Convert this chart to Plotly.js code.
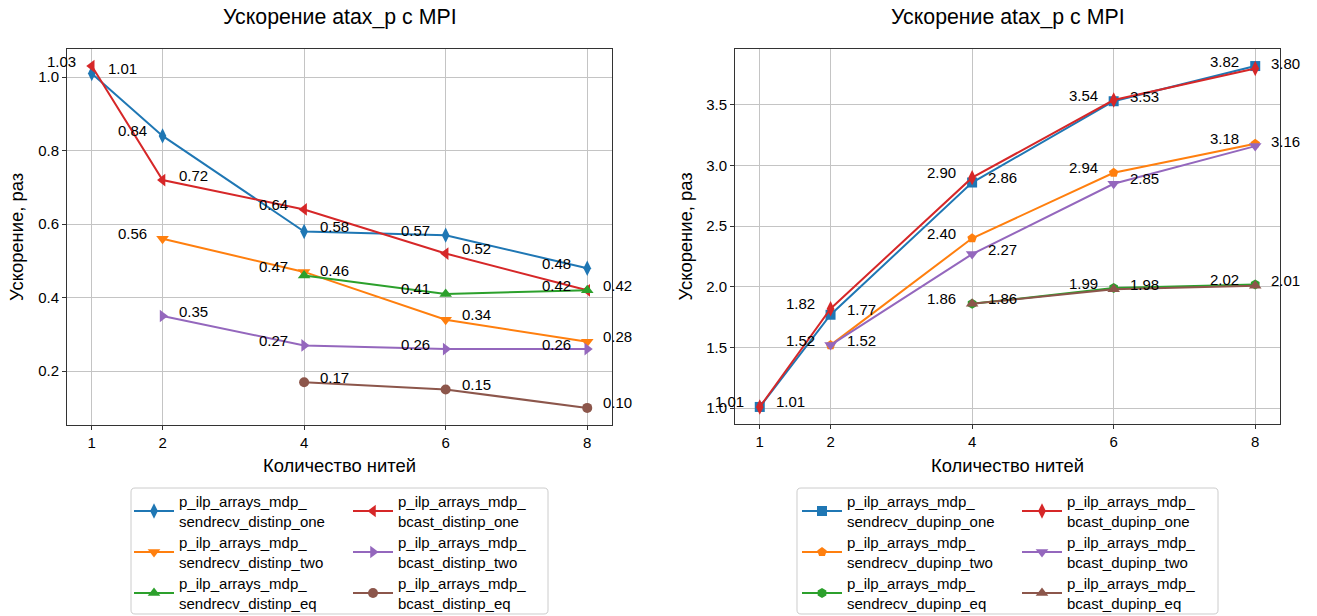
<!DOCTYPE html>
<html>
<head>
<meta charset="utf-8">
<script src="https://cdn.plot.ly/plotly-3.0.1.min.js"></script>
<style>html,body{margin:0;padding:0;background:#fff}</style>
</head>
<body>
<div id="chart" style="width:1317px;height:616px"></div>
<script>
// Thread counts
const threads = [1, 2, 4, 6, 8];
const threadsFrom2 = [2, 4, 6, 8];
const threadsFrom4 = [4, 6, 8];

// Speedup, distinct input per process
const sendrecvDistinpOne = [1.01, 0.84, 0.58, 0.57, 0.48];
const bcastDistinpOne    = [1.03, 0.72, 0.64, 0.52, 0.42];
const sendrecvDistinpTwo = [0.56, 0.47, 0.34, 0.28];
const bcastDistinpTwo    = [0.35, 0.27, 0.26, 0.26];
const sendrecvDistinpEq  = [0.46, 0.41, 0.42];
const bcastDistinpEq     = [0.17, 0.15, 0.10];

// Speedup, duplicated input
const sendrecvDupinpOne = [1.01, 1.77, 2.86, 3.53, 3.82];
const bcastDupinpOne    = [1.01, 1.82, 2.90, 3.54, 3.80];
const sendrecvDupinpTwo = [1.52, 2.40, 2.94, 3.18];
const bcastDupinpTwo    = [1.52, 2.27, 2.85, 3.16];
const sendrecvDupinpEq  = [1.86, 1.99, 2.02];
const bcastDupinpEq     = [1.86, 1.98, 2.01];

// Axis ticks and texts
const xTicks = [1, 2, 4, 6, 8];
const yTicksLeft = [0.2, 0.4, 0.6, 0.8, 1.0];
const yTicksRight = [1.0, 1.5, 2.0, 2.5, 3.0, 3.5];
const chartTitle = 'Ускорение atax_p с MPI';
const xTitle = 'Количество нитей';
const yTitle = 'Ускорение, раз';

const W = 1317, H = 616;
const FONT = 'Liberation Sans, Arial, sans-serif';
const C = {blue:'#1f77b4', orange:'#ff7f0e', green:'#2ca02c', red:'#d62728', purple:'#9467bd', brown:'#8c564b'};

// legend grid: column (0 = sendrecv, 1 = bcast) and row of each series;
// side of the value label for each point: L = left of marker, R = right
const series = [
  {name:'p_ilp_arrays_mdp_<br>sendrecv_distinp_one', x:threads, y:sendrecvDistinpOne, c:C.blue, s:'diamond-tall', sz:11, ax:1, col:0, row:0, side:['R','L','R','L','L']},
  {name:'p_ilp_arrays_mdp_<br>bcast_distinp_one', x:threads, y:bcastDistinpOne, c:C.red, s:'triangle-left', sz:11, ax:1, col:1, row:0, side:['L','R','L','R','R']},
  {name:'p_ilp_arrays_mdp_<br>sendrecv_distinp_two', x:threadsFrom2, y:sendrecvDistinpTwo, c:C.orange, s:'triangle-down', sz:11, ax:1, col:0, row:1, side:['L','L','R','R']},
  {name:'p_ilp_arrays_mdp_<br>bcast_distinp_two', x:threadsFrom2, y:bcastDistinpTwo, c:C.purple, s:'triangle-right', sz:11, ax:1, col:1, row:1, side:['R','L','L','L']},
  {name:'p_ilp_arrays_mdp_<br>sendrecv_distinp_eq', x:threadsFrom4, y:sendrecvDistinpEq, c:C.green, s:'triangle-up', sz:11, ax:1, col:0, row:2, side:['R','L','L']},
  {name:'p_ilp_arrays_mdp_<br>bcast_distinp_eq', x:threadsFrom4, y:bcastDistinpEq, c:C.brown, s:'circle', sz:10, ax:1, col:1, row:2, side:['R','R','R']},

  {name:'p_ilp_arrays_mdp_<br>sendrecv_dupinp_one', x:threads, y:sendrecvDupinpOne, c:C.blue, s:'square', sz:10, ax:2, col:0, row:0, side:['L','R','R','R','L']},
  {name:'p_ilp_arrays_mdp_<br>bcast_dupinp_one', x:threads, y:bcastDupinpOne, c:C.red, s:'diamond-tall', sz:11, ax:2, col:1, row:0, side:['R','L','L','L','R']},
  {name:'p_ilp_arrays_mdp_<br>sendrecv_dupinp_two', x:threadsFrom2, y:sendrecvDupinpTwo, c:C.orange, s:'pentagon', sz:10, ax:2, col:0, row:1, side:['L','L','L','L']},
  {name:'p_ilp_arrays_mdp_<br>bcast_dupinp_two', x:threadsFrom2, y:bcastDupinpTwo, c:C.purple, s:'triangle-down', sz:11, ax:2, col:1, row:1, side:['R','R','R','R']},
  {name:'p_ilp_arrays_mdp_<br>sendrecv_dupinp_eq', x:threadsFrom4, y:sendrecvDupinpEq, c:C.green, s:'hexagon', sz:10, ax:2, col:0, row:2, side:['L','L','L']},
  {name:'p_ilp_arrays_mdp_<br>bcast_dupinp_eq', x:threadsFrom4, y:bcastDupinpEq, c:C.brown, s:'triangle-up', sz:11, ax:2, col:1, row:2, side:['R','R','R']}
];

const px = v => v / W;
const py = v => 1 - v / H;

// legend cell placement (pixels)
const legendColX = {1:[129, 348], 2:[797, 1017]};
const legendRowY = [485, 526, 567];

const traces = [];
const layoutLegends = {};
series.forEach((d, k) => {
  const lid = k === 0 ? 'legend' : 'legend' + (k + 1);
  traces.push({
    type:'scatter', mode:'lines+markers', name:d.name, x:d.x, y:d.y,
    xaxis: d.ax === 1 ? 'x' : 'x2', yaxis: d.ax === 1 ? 'y' : 'y2',
    legend: lid,
    line:{color:d.c, width:2},
    marker:{color:d.c, symbol:d.s, size:d.sz},
    hoverinfo:'x+y'
  });
  layoutLegends[lid] = {
    orientation:'v', bgcolor:'rgba(0,0,0,0)', borderwidth:0,
    font:{family:FONT, size:15, color:'#000'},
    xanchor:'left', yanchor:'top', itemwidth:40,
    x:px(legendColX[d.ax][d.col]), y:py(legendRowY[d.row])
  };
});

// value labels next to each marker
const annotations = [];
series.forEach(d => {
  d.y.forEach((v, i) => {
    const left = d.side[i] === 'L';
    annotations.push({
      x:d.x[i], y:v, xref: d.ax === 1 ? 'x' : 'x2', yref: d.ax === 1 ? 'y' : 'y2',
      text:v.toFixed(2), showarrow:false,
      xanchor: left ? 'right' : 'left', yanchor:'middle',
      xshift: left ? -14 : 14, yshift:5,
      font:{family:FONT, size:15, color:'#000'}
    });
  });
});

// plot areas in pixels
const P1 = {l:67, r:612, t:49, b:425};
const P2 = {l:735, r:1280, t:49, b:424};

[P1, P2].forEach(p => {
  const cx = (p.l + p.r) / 2;
  annotations.push({xref:'paper', yref:'paper', x:px(cx), y:py(17), text:chartTitle, showarrow:false,
    xanchor:'center', yanchor:'middle', font:{family:FONT, size:21.3, color:'#000'}});
  annotations.push({xref:'paper', yref:'paper', x:px(cx), y:py(465), text:xTitle, showarrow:false,
    xanchor:'center', yanchor:'middle', font:{family:FONT, size:18.4, color:'#000'}});
  annotations.push({xref:'paper', yref:'paper', x:px(p.l - 50), y:py((p.t + p.b) / 2), text:yTitle, showarrow:false,
    textangle:-90, xanchor:'center', yanchor:'middle', font:{family:FONT, size:18.4, color:'#000'}});
});

function roundedBox(x0, y0, x1, y1, r) {
  const X = v => px(v).toFixed(5), Y = v => py(v).toFixed(5);
  return `M${X(x0 + r)},${Y(y0)} L${X(x1 - r)},${Y(y0)} Q${X(x1)},${Y(y0)} ${X(x1)},${Y(y0 + r)} ` +
         `L${X(x1)},${Y(y1 - r)} Q${X(x1)},${Y(y1)} ${X(x1 - r)},${Y(y1)} ` +
         `L${X(x0 + r)},${Y(y1)} Q${X(x0)},${Y(y1)} ${X(x0)},${Y(y1 - r)} ` +
         `L${X(x0)},${Y(y0 + r)} Q${X(x0)},${Y(y0)} ${X(x0 + r)},${Y(y0)} Z`;
}

const shapes = [
  {type:'path', xref:'paper', yref:'paper', path:roundedBox(131, 488, 548, 614, 4), line:{color:'#cccccc', width:1}, fillcolor:'rgba(255,255,255,0.8)', layer:'below'},
  {type:'path', xref:'paper', yref:'paper', path:roundedBox(797, 488, 1218, 614, 4), line:{color:'#cccccc', width:1}, fillcolor:'rgba(255,255,255,0.8)', layer:'below'}
];

const axisCommon = {
  showgrid:true, gridcolor:'#c4c4c4', gridwidth:1,
  showline:true, linecolor:'#333', linewidth:1, mirror:true,
  ticks:'outside', ticklen:4, tickcolor:'#333', tickwidth:1,
  zeroline:false, automargin:false, tickfont:{family:FONT, size:15, color:'#000'}
};

const layout = Object.assign({
  width:W, height:H, margin:{l:0, r:0, t:0, b:0, autoexpand:false},
  paper_bgcolor:'#fff', plot_bgcolor:'#fff',
  font:{family:FONT, size:15, color:'#000'},
  xaxis:Object.assign({}, axisCommon, {domain:[px(P1.l), px(P1.r)], range:[0.65, 8.35], tickvals:xTicks, anchor:'y'}),
  yaxis:Object.assign({}, axisCommon, {domain:[py(P1.b), py(P1.t)], range:[0.0535, 1.0765], tickvals:yTicksLeft, tickformat:'.1f', anchor:'x'}),
  xaxis2:Object.assign({}, axisCommon, {domain:[px(P2.l), px(P2.r)], range:[0.65, 8.35], tickvals:xTicks, anchor:'y2'}),
  yaxis2:Object.assign({}, axisCommon, {domain:[py(P2.b), py(P2.t)], range:[0.8695, 3.9605], tickvals:yTicksRight, tickformat:'.1f', anchor:'x2'}),
  annotations:annotations,
  shapes:shapes,
  showlegend:true
}, layoutLegends);

Plotly.newPlot('chart', traces, layout, {displayModeBar:false, staticPlot:true});
</script>
</body>
</html>
